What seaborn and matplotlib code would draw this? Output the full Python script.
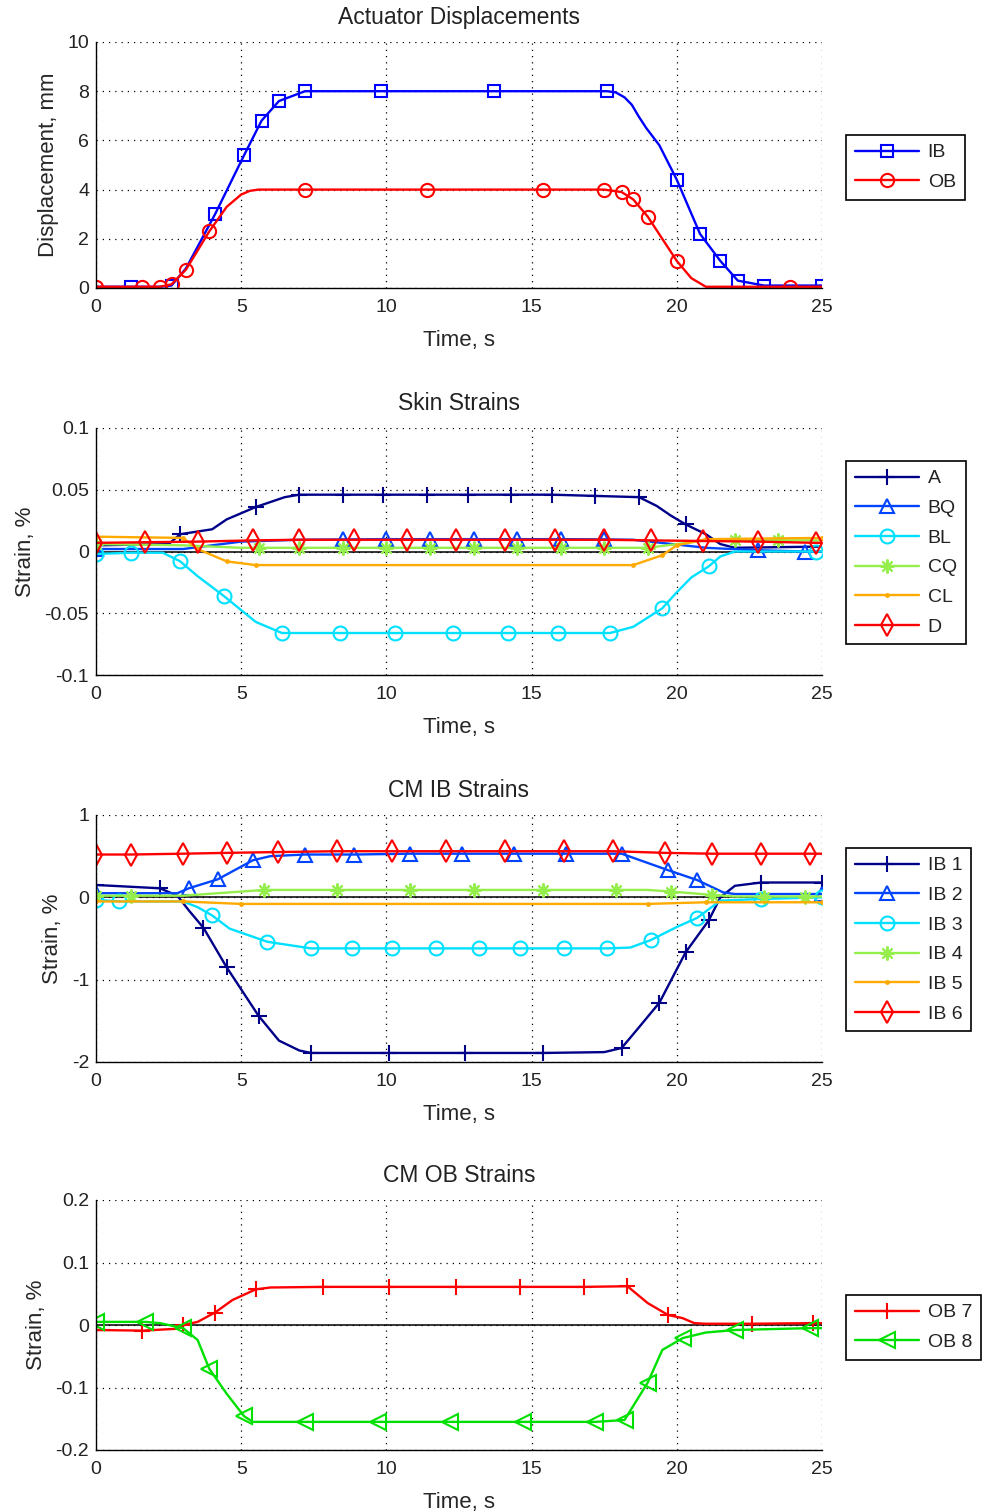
import numpy as np
import seaborn as sns
from matplotlib import pyplot as plt

# ---- Actuator displacements (mm) ----
ib_t = [0, 1.2, 2.2, 2.6, 3.1, 4.1, 5.1, 5.7, 6.3, 7.2, 9.8, 13.7, 17.6, 17.9, 18.2, 18.45,
        18.7, 18.95, 19.4, 20.0, 20.8, 21.5, 22.1, 23.0, 25.0]
ib_y = [0.05, 0.05, 0.05, 0.1, 0.8, 3.0, 5.4, 6.8, 7.6, 8.0, 8.0, 8.0, 8.0, 7.95, 7.75, 7.45,
        6.95, 6.5, 5.8, 4.4, 2.2, 1.1, 0.3, 0.1, 0.1]
ib_marks = [1.2, 2.6, 4.1, 5.1, 5.7, 6.3, 7.2, 9.8, 13.7, 17.6, 20.0, 20.8, 21.5, 22.1, 23.0, 25.0]

ob_t = [0, 1.6, 2.2, 2.6, 3.1, 3.9, 4.5, 5.0, 5.3, 5.6, 7.2, 11.4, 15.4, 17.5, 18.1, 18.5,
        19.0, 20.0, 20.5, 21.0, 23.9, 25.0]
ob_y = [0.05, 0.05, 0.05, 0.15, 0.75, 2.3, 3.3, 3.8, 3.95, 4.0, 4.0, 4.0, 4.0, 4.0, 3.9, 3.6,
        2.9, 1.1, 0.4, 0.05, 0.05, 0.05]
ob_marks = [0, 1.6, 2.2, 2.6, 3.1, 3.9, 7.2, 11.4, 15.4, 17.5, 18.1, 18.5, 19.0, 20.0, 23.9]

# ---- Skin strains (%) ----
a_t = [0, 2.5, 2.9, 4.0, 4.5, 5.5, 6.5, 7.0, 8.5, 9.9, 11.4, 12.8, 14.3, 15.7, 17.2, 18.7,
       19.3, 19.8, 20.3, 21.0, 21.5, 22.0, 25.0]
a_y = [0.005, 0.006, 0.014, 0.018, 0.026, 0.036, 0.044, 0.046, 0.046, 0.046, 0.046, 0.046,
       0.046, 0.046, 0.045, 0.044, 0.037, 0.029, 0.022, 0.014, 0.006, 0.003, 0.004]
a_marks = [2.9, 5.5, 7.0, 8.5, 9.9, 11.4, 12.8, 14.3, 15.7, 17.2, 18.7, 20.3]

bq_t = [0, 3.0, 5.0, 7.0, 8.5, 10.0, 11.5, 13.0, 14.5, 16.0, 17.5, 18.5, 21.0, 22.8, 24.4, 25.0]
bq_y = [0.002, 0.002, 0.008, 0.0095, 0.0098, 0.01, 0.01, 0.01, 0.01, 0.01, 0.0098, 0.0095,
        0.003, 0.001, 0.0, 0.0]
bq_marks = [0, 8.5, 10.0, 11.5, 13.0, 14.5, 16.0, 17.5, 22.8, 24.4]

bl_t = [0, 1.2, 2.3, 2.9, 3.5, 4.4, 5.5, 6.4, 8.4, 10.3, 12.3, 14.2, 15.9, 17.7, 18.5, 19.5,
        20.0, 20.5, 21.1, 21.5, 22.0, 24.8, 25.0]
bl_y = [-0.002, -0.001, -0.001, -0.008, -0.02, -0.036, -0.057, -0.066, -0.066, -0.066, -0.066,
        -0.066, -0.066, -0.066, -0.061, -0.046, -0.033, -0.021, -0.012, -0.004, 0.0, 0.0, 0.0]
bl_marks = [0, 1.2, 2.9, 4.4, 6.4, 8.4, 10.3, 12.3, 14.2, 15.9, 17.7, 19.5, 21.1, 24.8]

cq_t = [0, 3.0, 5.0, 5.6, 7.0, 8.5, 10.0, 11.5, 13.0, 14.5, 16.0, 17.5, 19.0, 20.0, 21.0,
        22.0, 23.5, 25.0]
cq_y = [0.006, 0.005, 0.003, 0.003, 0.003, 0.003, 0.003, 0.003, 0.003, 0.003, 0.003, 0.003,
        0.003, 0.006, 0.009, 0.009, 0.009, 0.009]
cq_marks = [0, 5.6, 7.0, 8.5, 10.0, 11.5, 13.0, 14.5, 16.0, 17.5, 19.0, 22.0, 23.5]

cl_t = [0, 3.0, 3.5, 4.5, 5.5, 18.5, 19.5, 20.0, 21.0, 25.0]
cl_y = [0.012, 0.011, 0.002, -0.008, -0.011, -0.011, -0.003, 0.005, 0.010, 0.011]
cl_marks = cl_t

d_t = [0, 1.7, 3.5, 5.4, 7.0, 8.9, 10.7, 12.4, 14.1, 15.8, 17.5, 19.1, 20.9, 22.8, 24.8, 25.0]
d_y = [0.007, 0.0075, 0.008, 0.009, 0.0095, 0.0095, 0.0095, 0.0095, 0.0095, 0.0095, 0.0095,
       0.009, 0.0085, 0.008, 0.007, 0.007]
d_marks = d_t[:-1]

# ---- CM IB strains (%) ----
ib1_t = [0, 2.2, 2.8, 3.2, 3.7, 4.5, 5.6, 6.3, 7.0, 7.4, 10.1, 12.7, 15.4, 17.5, 18.1, 18.6,
         19.4, 20.3, 21.1, 21.5, 22.0, 22.9, 25.0]
ib1_y = [0.15, 0.11, 0.02, -0.16, -0.37, -0.85, -1.44, -1.74, -1.86, -1.89, -1.89, -1.89,
         -1.89, -1.88, -1.83, -1.62, -1.28, -0.67, -0.28, 0.0, 0.14, 0.18, 0.18]
ib1_marks = [0, 2.2, 3.7, 4.5, 5.6, 7.4, 10.1, 12.7, 15.4, 18.1, 19.4, 20.3, 21.1, 22.9, 25.0]

ib2_t = [0, 2.8, 3.2, 4.2, 5.4, 6.0, 7.2, 8.9, 10.8, 12.6, 14.4, 16.2, 18.1, 19.7, 20.7,
         21.6, 22.0, 25.0]
ib2_y = [0.05, 0.05, 0.11, 0.22, 0.45, 0.5, 0.52, 0.52, 0.53, 0.53, 0.53, 0.53, 0.53, 0.33,
         0.21, 0.06, 0.04, 0.04]
ib2_marks = [0, 3.2, 4.2, 5.4, 7.2, 8.9, 10.8, 12.6, 14.4, 16.2, 18.1, 19.7, 20.7, 25.0]

ib3_t = [0, 0.8, 3.0, 3.5, 4.0, 4.6, 5.9, 7.4, 8.8, 10.2, 11.7, 13.2, 14.6, 16.1, 17.6, 18.4,
         19.1, 20.0, 20.7, 21.5, 22.9, 25.0]
ib3_y = [-0.03, -0.05, -0.05, -0.12, -0.22, -0.38, -0.54, -0.62, -0.62, -0.62, -0.62, -0.62,
         -0.62, -0.62, -0.62, -0.61, -0.52, -0.36, -0.25, -0.04, -0.02, 0.0]
ib3_marks = [0, 0.8, 4.0, 5.9, 7.4, 8.8, 10.2, 11.7, 13.2, 14.6, 16.1, 17.6, 19.1, 20.7, 22.9, 25.0]

ib4_t = [0, 1.2, 3.0, 5.0, 5.8, 8.3, 10.8, 13.0, 15.4, 17.9, 19.0, 19.8, 21.2, 22.0, 23.0,
         24.4, 25.0]
ib4_y = [0.02, 0.02, 0.02, 0.07, 0.09, 0.09, 0.09, 0.09, 0.09, 0.09, 0.09, 0.07, 0.03, 0.01,
         0.01, 0.01, 0.01]
ib4_marks = [0, 1.2, 5.8, 8.3, 10.8, 13.0, 15.4, 17.9, 19.8, 21.2, 23.0, 24.4]

ib5_t = [0, 3.0, 5.0, 19.0, 21.0, 25.0]
ib5_y = [-0.05, -0.05, -0.08, -0.08, -0.06, -0.06]
ib5_marks = ib5_t

ib6_t = [0, 1.2, 3.0, 4.5, 6.25, 8.3, 10.2, 12.05, 14.1, 16.1, 17.8, 19.6, 21.2, 22.9, 24.6, 25.0]
ib6_y = [0.52, 0.52, 0.53, 0.54, 0.55, 0.56, 0.56, 0.56, 0.56, 0.56, 0.56, 0.54, 0.53, 0.53,
         0.53, 0.53]
ib6_marks = ib6_t[:-1]

# ---- CM OB strains (%) ----
ob7_t = [0, 1.6, 2.8, 3.0, 3.5, 4.1, 4.7, 5.5, 6.0, 7.8, 10.1, 12.4, 14.6, 16.8, 18.3, 19.0,
         19.7, 20.2, 20.6, 21.0, 22.6, 24.7, 25.0]
ob7_y = [-0.008, -0.009, -0.006, 0.0, 0.005, 0.02, 0.04, 0.057, 0.06, 0.061, 0.061, 0.061,
         0.061, 0.061, 0.062, 0.035, 0.016, 0.011, 0.003, 0.002, 0.002, 0.003, 0.003]
ob7_marks = [0, 1.6, 3.0, 4.1, 5.5, 7.8, 10.1, 12.4, 14.6, 16.8, 18.3, 19.7, 22.6, 24.7]

ob8_t = [0, 1.7, 2.2, 3.0, 3.5, 3.9, 4.5, 5.1, 5.4, 7.2, 9.7, 12.2, 14.7, 17.2, 18.2, 19.0,
         19.5, 20.2, 21.0, 22.0, 24.6, 25.0]
ob8_y = [0.005, 0.005, 0.003, -0.005, -0.024, -0.07, -0.11, -0.146, -0.155, -0.155, -0.155,
         -0.155, -0.155, -0.155, -0.152, -0.092, -0.04, -0.021, -0.012, -0.008, -0.005, -0.005]
ob8_marks = [0, 1.7, 3.0, 3.9, 5.1, 7.2, 9.7, 12.2, 14.7, 17.2, 18.2, 19.0, 20.2, 22.0, 24.6]

x_ticks = [0, 5, 10, 15, 20, 25]
titles = ["Actuator Displacements", "Skin Strains", "CM IB Strains", "CM OB Strains"]
y_labels = ["Displacement, mm", "Strain, %", "Strain, %", "Strain, %"]
y_ticks = [[0, 2, 4, 6, 8, 10],
           [-0.1, -0.05, 0, 0.05, 0.1],
           [-2, -1, 0, 1],
           [-0.2, -0.1, 0, 0.1, 0.2]]
y_ticklabels = [["0", "2", "4", "6", "8", "10"],
                ["-0.1", "-0.05", "0", "0.05", "0.1"],
                ["-2", "-1", "0", "1"],
                ["-0.2", "-0.1", "0", "0.1", "0.2"]]

NAVY = "#000088"
BLUE2 = "#0044ff"
CYAN = "#00e0ff"
LGREEN = "#94ee4c"
ORANGE = "#ffaa00"
RED = "#ff0000"
GREEN = "#00e000"
ASTER = (8, 2, 0)

sns.set_theme(style="white")
plt.rcParams.update({
    "font.family": ["Liberation Sans", "DejaVu Sans"],
    "axes.unicode_minus": False,
    "xtick.direction": "in",
    "ytick.direction": "in",
    "axes.linewidth": 1.0,
    "axes.edgecolor": "black",
    "text.color": "#222222",
    "xtick.color": "black",
    "ytick.color": "black",
    "xtick.labelcolor": "#222222",
    "ytick.labelcolor": "#222222",
})


def draw(ax, t, y, marks, color, marker, label, ms=9.0, lw=1.7):
    t = np.asarray(t, dtype=float)
    idx = list(np.flatnonzero(np.isin(t, marks)))
    sns.lineplot(x=t, y=y, ax=ax, color=color, lw=lw, marker=marker, markevery=idx,
                 ms=ms, mfc="none", mec=color, mew=1.5, label=label, sort=False,
                 estimator=None)


fig = plt.figure(figsize=(9.84, 15.12), dpi=100)
W, H = 984.0, 1512.0
boxes = [(42, 288), (428, 675), (815, 1062), (1200, 1450)]
axes = []
for top, bot in boxes:
    axes.append(fig.add_axes([96 / W, 1 - bot / H, (822 - 96) / W, (bot - top) / H]))

ax = axes[0]
draw(ax, ib_t, ib_y, ib_marks, "#0000ff", "s", "IB", ms=9)
draw(ax, ob_t, ob_y, ob_marks, RED, "o", "OB", ms=9.5)

ax = axes[1]
ax.axhline(0, color="black", lw=1.1, zorder=1)
draw(ax, a_t, a_y, a_marks, NAVY, "+", "A", ms=11)
draw(ax, bq_t, bq_y, bq_marks, BLUE2, "^", "BQ", ms=9.5)
draw(ax, bl_t, bl_y, bl_marks, CYAN, "o", "BL", ms=10)
draw(ax, cq_t, cq_y, cq_marks, LGREEN, ASTER, "CQ", ms=10)
draw(ax, cl_t, cl_y, cl_marks, ORANGE, ".", "CL", ms=4)
draw(ax, d_t, d_y, d_marks, RED, "d", "D", ms=11)

ax = axes[2]
ax.axhline(0, color="black", lw=1.1, zorder=1)
draw(ax, ib1_t, ib1_y, ib1_marks, NAVY, "+", "IB 1", ms=11)
draw(ax, ib2_t, ib2_y, ib2_marks, BLUE2, "^", "IB 2", ms=9.5)
draw(ax, ib3_t, ib3_y, ib3_marks, CYAN, "o", "IB 3", ms=10)
draw(ax, ib4_t, ib4_y, ib4_marks, LGREEN, ASTER, "IB 4", ms=10)
draw(ax, ib5_t, ib5_y, ib5_marks, ORANGE, ".", "IB 5", ms=4)
draw(ax, ib6_t, ib6_y, ib6_marks, RED, "d", "IB 6", ms=11)

ax = axes[3]
ax.axhline(0, color="black", lw=1.1, zorder=1)
draw(ax, ob7_t, ob7_y, ob7_marks, RED, "+", "OB 7", ms=12)
draw(ax, ob8_t, ob8_y, ob8_marks, GREEN, "<", "OB 8", ms=11)

legend_tops = [135, 461, 848, 1295]
for i, ax in enumerate(axes):
    ax.set_xlim(0, 25)
    ax.set_ylim(y_ticks[i][0], y_ticks[i][-1])
    ax.set_xticks(x_ticks)
    ax.set_xticklabels([str(v) for v in x_ticks])
    ax.set_yticks(y_ticks[i])
    ax.set_yticklabels(y_ticklabels[i])
    ax.tick_params(labelsize=14, length=5, width=1, pad=5)
    ax.tick_params(axis="x", pad=8)
    ax.grid(True, linestyle=(0, (1, 4)), color="black", lw=0.9)
    ax.spines["top"].set_visible(False)
    ax.spines["right"].set_visible(False)
    ax.set_title(titles[i], fontsize=16.5, pad=13)
    ax.set_xlabel("Time, s", fontsize=16, labelpad=10)
    ax.set_ylabel(y_labels[i], fontsize=16, labelpad=6)
    ax.legend(loc="upper left", bbox_to_anchor=(846 / W, 1 - legend_tops[i] / H),
              bbox_transform=fig.transFigure, borderaxespad=0, fontsize=14,
              frameon=True, fancybox=False, edgecolor="black", framealpha=1,
              handlelength=3.3, handletextpad=0.45, labelspacing=0.62,
              borderpad=0.45)
    ax.get_legend().get_frame().set_linewidth(1.2)

fig.savefig("out.png", dpi=100)
